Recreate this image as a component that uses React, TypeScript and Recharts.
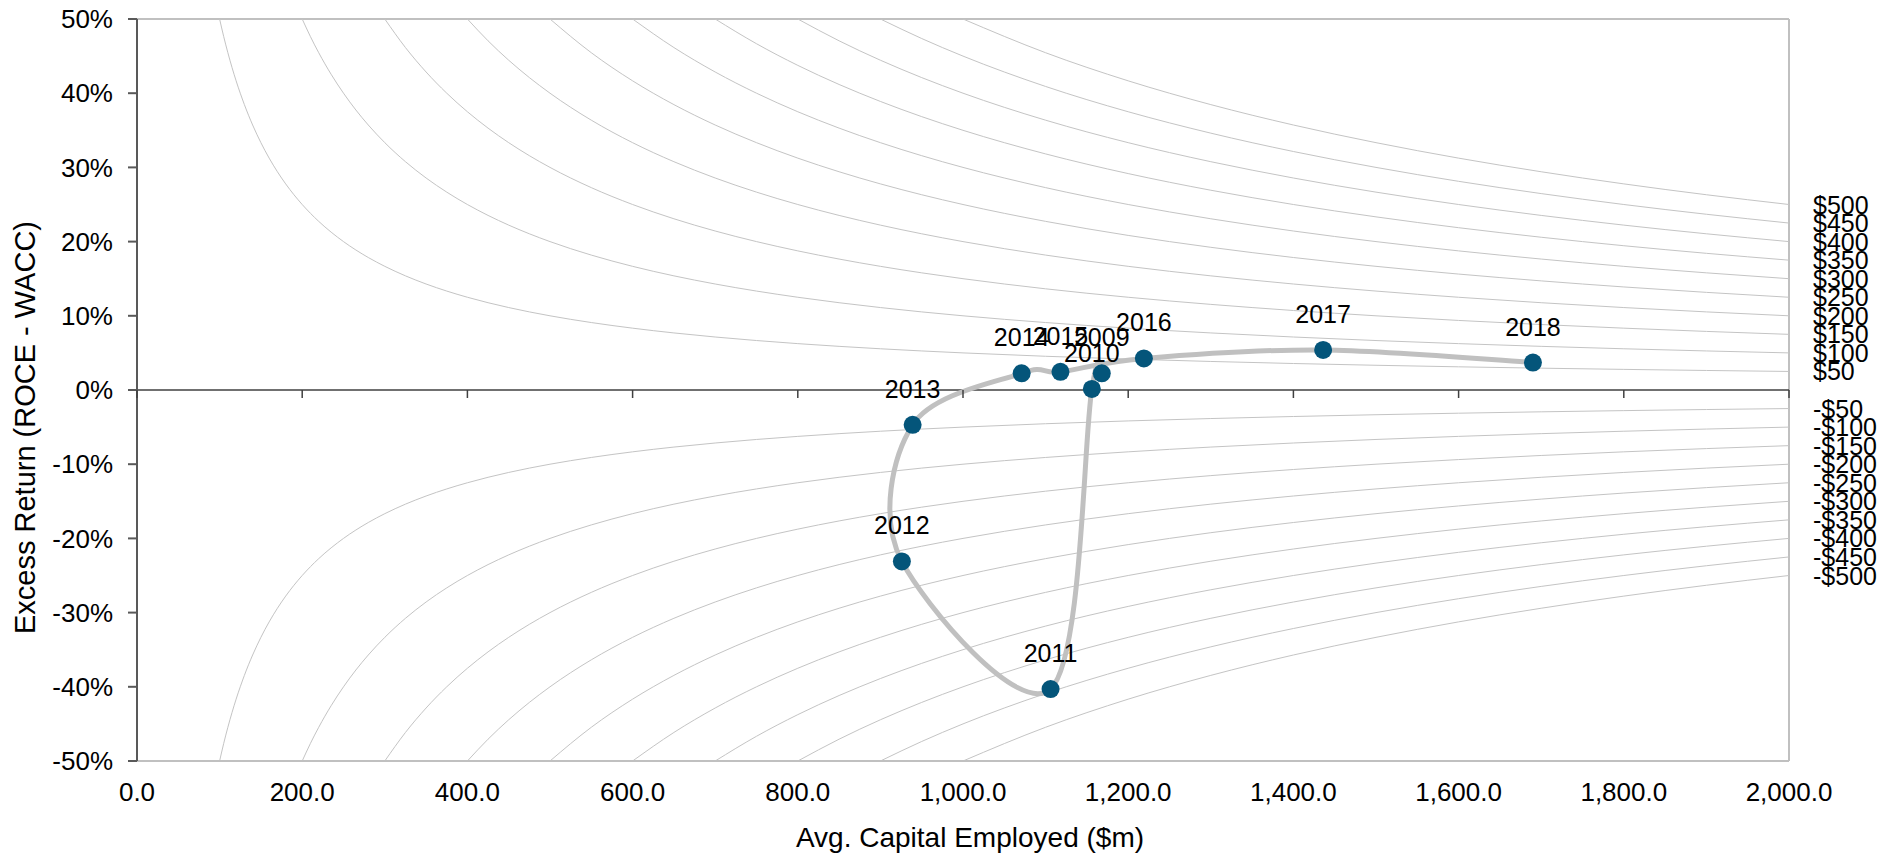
import { ComposedChart, Line, XAxis, YAxis, ReferenceLine, LabelList, Label } from "recharts";

// company path
const years = [2009, 2010, 2011, 2012, 2013, 2014, 2015, 2016, 2017, 2018];
const capitalEmployed = [1168, 1156, 1106, 926, 939, 1071, 1118, 1219, 1436, 1690];
const excessReturn = [2.25, 0.15, -40.3, -23.1, -4.7, 2.25, 2.45, 4.25, 5.4, 3.7];

// economic profit iso-lines ($m): excess return = profit / capital
const profitLevels = [500, 450, 400, 350, 300, 250, 200, 150, 100, 50, -50, -100, -150, -200, -250, -300, -350, -400, -450, -500];
const capitalGrid = [
  100, 105, 110, 115, 120, 130, 140, 150, 160, 170, 180, 190, 200, 210, 220, 235, 250, 265, 280, 300,
  325, 350, 375, 400, 425, 450, 475, 500, 550, 600, 650, 700, 750, 800, 850, 900, 950, 1000,
  1100, 1200, 1300, 1400, 1500, 1600, 1700, 1800, 1900, 2000,
];

const xTicks = [0, 200, 400, 600, 800, 1000, 1200, 1400, 1600, 1800, 2000];
const yTicks = [-50, -40, -30, -20, -10, 0, 10, 20, 30, 40, 50];

const W = 1897;
const H = 855;
const PLOT_TOP = 19;
const PLOT_LEFT = 137;
const PLOT_RIGHT = 1789;
const PLOT_BOTTOM = 761;
const ZERO_Y = (PLOT_TOP + PLOT_BOTTOM) / 2;
const FONT = '"Liberation Sans", Arial, sans-serif';

const pathData = years.map((year, i) => ({ x: capitalEmployed[i], y: excessReturn[i], year }));

const isoData = profitLevels.map((v) => {
  const pts = capitalGrid.filter((c) => c >= Math.abs(v) * 2);
  return pts.map((c, i) => ({
    x: c,
    y: (v / c) * 100,
    tag: i === pts.length - 1 ? `${v < 0 ? "-" : ""}$${Math.abs(v)}` : undefined,
  }));
});

// Excel-style smoothed line (cardinal spline, tension 0)
const excelSmooth = (context: any) => {
  let pts: number[][] = [];
  return {
    areaStart() {},
    areaEnd() {},
    lineStart() {
      pts = [];
    },
    point(x: number, y: number) {
      pts.push([+x, +y]);
    },
    lineEnd() {
      if (!pts.length) return;
      context.moveTo(pts[0][0], pts[0][1]);
      for (let i = 0; i < pts.length - 1; i++) {
        const p0 = pts[i - 1] || pts[i];
        const p1 = pts[i];
        const p2 = pts[i + 1];
        const p3 = pts[i + 2] || p2;
        context.bezierCurveTo(
          p1[0] + (p2[0] - p0[0]) / 6,
          p1[1] + (p2[1] - p0[1]) / 6,
          p2[0] - (p3[0] - p1[0]) / 6,
          p2[1] - (p3[1] - p1[1]) / 6,
          p2[0],
          p2[1]
        );
      }
    },
  };
};

const fmtX = (v: number) => v.toLocaleString("en-US", { minimumFractionDigits: 1, maximumFractionDigits: 1 });

const XTick = (props: any) => {
  const { x, y, payload } = props;
  return (
    <g>
      <line x1={x} x2={x} y1={ZERO_Y} y2={ZERO_Y + 8} stroke="#404040" strokeWidth={1.5} />
      <text x={x} y={y} dy="0.71em" textAnchor="middle" fontSize={26} fill="#000" fontFamily={FONT}>
        {fmtX(payload.value)}
      </text>
    </g>
  );
};

const EndLabel = (props: any) => {
  const { value } = props;
  if (value == null || value === "") return null;
  const x = props.x ?? props.viewBox?.x;
  const y = props.y ?? props.viewBox?.y;
  return (
    <text x={x + 24} y={y} dy="0.36em" fontSize={25} fill="#000" fontFamily={FONT}>
      {value}
    </text>
  );
};

const YTitle = () => (
  <text
    x={25}
    y={H / 2}
    transform={`rotate(-90, 25, ${H / 2})`}
    textAnchor="middle"
    dy="0.36em"
    fontSize={29}
    fill="#000"
    fontFamily={FONT}
  >
    Excess Return (ROCE - WACC)
  </text>
);

export default function App() {
  return (
    <div style={{ position: "absolute", left: 0, top: 0, fontFamily: FONT }}>
      <ComposedChart
        width={W}
        height={H}
        margin={{ top: PLOT_TOP, right: W - PLOT_RIGHT, bottom: 0, left: 0 }}
      >
        <XAxis
          type="number"
          dataKey="x"
          domain={[0, 2000]}
          ticks={xTicks}
          allowDataOverflow
          height={H - PLOT_BOTTOM}
          axisLine={{ stroke: "#c0c0c0", strokeWidth: 2 }}
          tickLine={false}
          tickSize={0}
          tickMargin={22}
          tick={<XTick />}
        >
          <Label value="Avg. Capital Employed ($m)" position="insideBottom" offset={8} dx={7} fontSize={28} fill="#000" />
        </XAxis>
        <YAxis
          type="number"
          domain={[-50, 50]}
          ticks={yTicks}
          allowDataOverflow
          width={PLOT_LEFT}
          axisLine={{ stroke: "#595959", strokeWidth: 2 }}
          tickLine={{ stroke: "#595959", strokeWidth: 2 }}
          tickSize={9}
          tickMargin={15}
          tickFormatter={(v: number) => `${v}%`}
          tick={{ fontSize: 26, fill: "#000" }}
        >
          <Label content={<YTitle />} />
        </YAxis>
        <ReferenceLine y={50} stroke="#c0c0c0" strokeWidth={2} />
        <ReferenceLine x={2000} stroke="#c0c0c0" strokeWidth={2} />
        {isoData.map((d, i) => (
          <Line
            key={profitLevels[i]}
            data={d}
            dataKey="y"
            type="monotone"
            stroke="#c4c4c4"
            strokeWidth={1}
            dot={false}
            activeDot={false}
            isAnimationActive={false}
          >
            <LabelList dataKey="tag" content={<EndLabel />} />
          </Line>
        ))}
        <ReferenceLine y={0} stroke="#404040" strokeWidth={1.5} />
        <Line
          data={pathData}
          dataKey="y"
          type={excelSmooth as any}
          stroke="#c0c0c0"
          strokeWidth={5}
          dot={{ r: 9, fill: "#04557a", stroke: "#04557a", strokeWidth: 0 }}
          activeDot={false}
          isAnimationActive={false}
        >
          <LabelList dataKey="year" position="top" offset={27} fontSize={25} fill="#000" />
        </Line>
      </ComposedChart>
    </div>
  );
}
